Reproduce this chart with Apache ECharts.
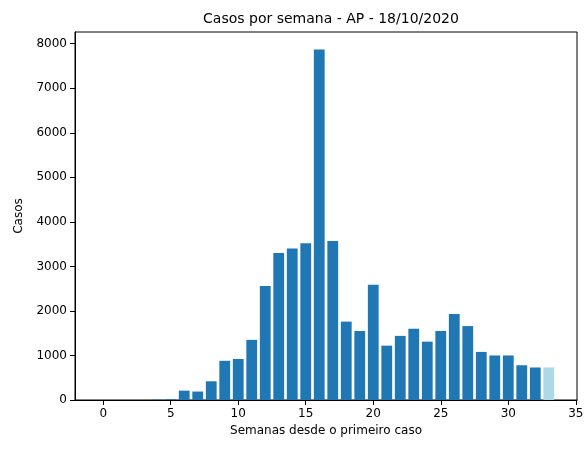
<!DOCTYPE html>
<html><head><meta charset="utf-8">
<script src="https://cdn.jsdelivr.net/npm/echarts@6/dist/echarts.min.js"></script>
<style>body{margin:0;background:#fff}#c{width:588px;height:453px}</style>
</head><body><div id="c"></div>
<script>
var weeks = [];
for (var i = 0; i <= 33; i++) weeks.push(i);
var casos = [0, 0, 0, 0, 10, 20, 210, 190, 420, 880, 920, 1350, 2560, 3300, 3400, 3520, 7870, 3570, 1760, 1550, 2590, 1220, 1440, 1600, 1310, 1550, 1930, 1660, 1080, 1000, 1000, 780, 730, 730];
var xTicks = [0, 5, 10, 15, 20, 25, 30, 35];
var yTicks = [0, 1000, 2000, 3000, 4000, 5000, 6000, 7000, 8000];

var font = 'DejaVu Sans';
var chart = echarts.init(document.getElementById('c'));
var data = weeks.map(function (w, i) {
    return {
        value: [w, casos[i]],
        itemStyle: { color: i == weeks.length - 1 ? '#add8e6' : '#1f77b4' }
    };
});
function plain(v) { return String(Math.round(v)); }
chart.setOption({
    animation: false,
    title: {
        text: 'Casos por semana - AP - 18/10/2020', left: 326, top: 7, textAlign: 'center',
        textStyle: { fontFamily: font, fontSize: 14, fontWeight: 'normal', color: '#000' }
    },
    grid: { left: 75, right: 11, top: 32, bottom: 53 },
    xAxis: {
        type: 'value', min: -2.09, max: 35.09,
        name: 'Semanas desde o primeiro caso', nameLocation: 'middle', nameGap: 24,
        nameTextStyle: { fontFamily: font, fontSize: 12, color: '#000' },
        splitLine: { show: false },
        axisLine: { onZero: false, lineStyle: { color: '#000' } },
        axisTick: { show: true, customValues: xTicks, lineStyle: { color: '#000' } },
        axisLabel: { customValues: xTicks, formatter: plain, fontFamily: font, fontSize: 12, color: '#000', showMinLabel: true, showMaxLabel: true }
    },
    yAxis: {
        type: 'value', min: 0, max: 8263,
        name: 'Casos', nameLocation: 'middle', nameGap: 50,
        nameTextStyle: { fontFamily: font, fontSize: 12, color: '#000' },
        splitLine: { show: false },
        axisLine: { show: true, onZero: false, lineStyle: { color: '#000' } },
        axisTick: { show: true, customValues: yTicks, lineStyle: { color: '#000' } },
        axisLabel: { customValues: yTicks, formatter: plain, fontFamily: font, fontSize: 12, color: '#000', showMinLabel: true }
    },
    series: [{
        type: 'bar', data: data, barWidth: 10.8
    }],
    graphic: [{
        type: 'rect', shape: { x: 75, y: 32, width: 502, height: 368 },
        style: { fill: null, stroke: '#000', lineWidth: 1 }, silent: true
    }]
});
</script></body></html>
